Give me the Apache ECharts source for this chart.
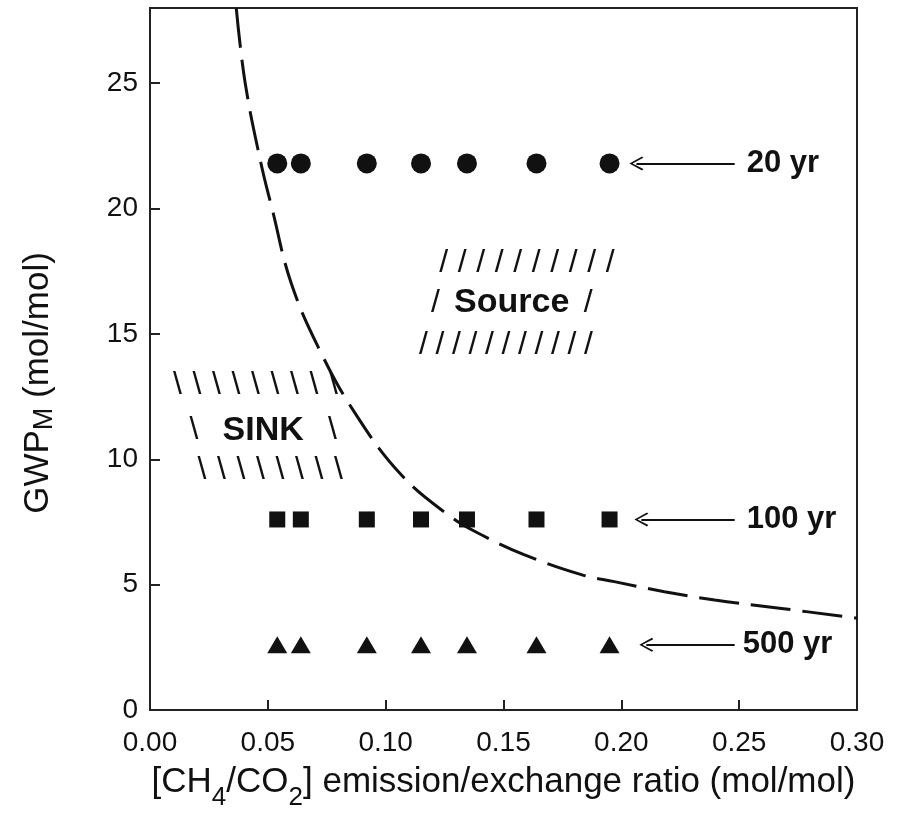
<!DOCTYPE html>
<html lang="en">
<head>
  <meta charset="UTF-8">
  <title>GWP vs CH4/CO2 ratio</title>
  <style>
    * { margin: 0; padding: 0; }
    body { background: #ffffff; }
    #chart { width: 900px; height: 820px; }
  </style>
</head>
<body>
  <div id="chart"></div>

  <script src="https://cdn.jsdelivr.net/npm/echarts@6/dist/echarts.min.js"></script>
  <script type="text/javascript">
  // emission ratios of the plotted points
  var ratioX = [0.054, 0.064, 0.092, 0.115, 0.1345, 0.164, 0.195];
  var gwp20 = [21.8, 21.8, 21.8, 21.8, 21.8, 21.8, 21.8];
  var gwp100 = [7.6, 7.6, 7.6, 7.6, 7.6, 7.6, 7.6];
  var gwp500 = [2.6, 2.6, 2.6, 2.6, 2.6, 2.6, 2.6];

  // dashed source/sink boundary
  var curveX = [0.0366, 0.0404, 0.0471, 0.0518, 0.0600, 0.0723, 0.0866, 0.1064, 0.1277, 0.1404, 0.1587, 0.183, 0.197, 0.2183, 0.2396, 0.268, 0.300];
  var curveY = [28, 25, 21.8, 20, 17.0, 14.3, 11.9, 9.4, 7.7, 7.0, 6.2, 5.4, 5.12, 4.72, 4.39, 4.05, 3.66];

  // horizon labels and their arrows
  var horizonNames = ['20 yr', '100 yr', '500 yr'];
  var horizonY = [21.8, 7.6, 2.6];
  var horizonLabelX = [0.2532, 0.2532, 0.2515];
  var arrowTail = [0.2481, 0.2481, 0.2481];
  var arrowTip = [0.2064, 0.2085, 0.2106];

  // hatched region labels
  var hatchRows = [
    '{h|/}'.repeat(10),
    '{h|/}{b| Source }{h|/}',
    '{g|/}'.repeat(11),
    '{k|\\}'.repeat(9),
    '{k|\\}{b|  SINK  }{k|\\}',
    '{k|\\}'.repeat(8)
  ];
  var hatchX = [0.160, 0.1535, 0.151, 0.0447, 0.048, 0.051];
  var hatchY = [17.82, 16.23, 14.55, 12.96, 11.16, 9.57];

  var xTicks = { min: 0, max: 0.3, interval: 0.05 };
  var yTicks = { min: 0, max: 28, interval: 5 };

  var font = '"Liberation Sans", Arial, Helvetica, sans-serif';
  var ink = '#111111';

  function pairs (xs, ys) {
    return xs.map(function (x, i) { return [x, ys[i]]; });
  }

  function main () {
    var chart = echarts.init(document.getElementById('chart'));
    var chevron = 'path://M0,0 L10,14 L8,15.5 L0,3.5 L-8,15.5 L-10,14 Z';
    var solid = { color: ink, opacity: 1 };

    var option = {
      animation: false,
      textStyle: { fontFamily: font, color: ink },
      grid: {
        left: 150, right: 43, top: 8, bottom: 110,
        show: true, borderColor: '#222', borderWidth: 2,
        outerBoundsMode: 'none'
      },
      xAxis: {
        type: 'value',
        min: xTicks.min, max: xTicks.max, interval: xTicks.interval,
        name: '{m|[CH}{s|4}{m|/CO}{s|2}{m|] emission/exchange ratio (mol/mol)}',
        nameLocation: 'middle',
        nameGap: 55,
        nameTextStyle: {
          rich: {
            m: { fontSize: 35, lineHeight: 35, verticalAlign: 'top', color: ink, fontFamily: font },
            s: { fontSize: 26, lineHeight: 46, padding: [20, 0, 0, 0], verticalAlign: 'bottom', color: ink, fontFamily: font }
          }
        },
        axisLine: { lineStyle: { color: '#222', width: 2 } },
        axisTick: { inside: true, length: 10, lineStyle: { color: '#222', width: 2 } },
        axisLabel: {
          fontSize: 28, color: ink, margin: 19,
          formatter: function (v) { return v.toFixed(2); }
        },
        splitLine: { show: false }
      },
      yAxis: {
        type: 'value',
        min: yTicks.min, max: yTicks.max, interval: yTicks.interval,
        name: '{m|GWP}{s|M}{m| (mol/mol)}',
        nameLocation: 'middle',
        nameGap: 92,
        nameTextStyle: {
          padding: [0, 48, 0, 0],
          rich: {
            m: { fontSize: 35, lineHeight: 35, verticalAlign: 'top', color: ink, fontFamily: font },
            s: { fontSize: 27, lineHeight: 37, padding: [10, 0, 0, 0], verticalAlign: 'bottom', color: ink, fontFamily: font }
          }
        },
        axisLine: { lineStyle: { color: '#222', width: 2 } },
        axisTick: { inside: true, length: 10, lineStyle: { color: '#222', width: 2 } },
        axisLabel: {
          fontSize: 28, color: ink, margin: 12, showMaxLabel: false,
          formatter: function (v) { return v % 5 === 0 ? String(v) : ''; }
        },
        splitLine: { show: false }
      },
      series: [
        {
          name: 'boundary',
          type: 'line',
          data: pairs(curveX, curveY),
          smooth: 0.4,
          showSymbol: false,
          silent: true,
          z: 1,
          lineStyle: { color: ink, width: 3, type: [40, 12] }
        },
        {
          name: '20 yr',
          type: 'scatter',
          data: pairs(ratioX, gwp20),
          symbol: 'circle',
          symbolSize: 20,
          itemStyle: solid
        },
        {
          name: '100 yr',
          type: 'scatter',
          data: pairs(ratioX, gwp100),
          symbol: 'rect',
          symbolSize: 16,
          itemStyle: solid
        },
        {
          name: '500 yr',
          type: 'scatter',
          data: pairs(ratioX, gwp500),
          symbol: 'triangle',
          symbolSize: [20, 17],
          itemStyle: solid
        },
        {
          name: 'horizons',
          type: 'scatter',
          silent: true,
          symbolSize: 0,
          itemStyle: solid,
          data: horizonNames.map(function (n, i) {
            return { name: n, value: [horizonLabelX[i], horizonY[i]] };
          }),
          label: {
            show: true, position: 'right', distance: 0, opacity: 1,
            formatter: function (p) { return p.name; },
            fontSize: 31, fontWeight: 'bold', color: ink, fontFamily: font
          },
          markLine: {
            silent: true,
            animation: false,
            symbol: ['none', chevron],
            symbolSize: 14,
            label: { show: false },
            lineStyle: { color: ink, width: 2, type: 'solid', opacity: 1 },
            data: horizonY.map(function (y, i) {
              return [{ coord: [arrowTail[i], y] }, { coord: [arrowTip[i], y] }];
            })
          }
        },
        {
          name: 'regions',
          type: 'scatter',
          silent: true,
          symbolSize: 0,
          itemStyle: solid,
          data: hatchRows.map(function (t, i) {
            return { name: t, value: [hatchX[i], hatchY[i]] };
          }),
          label: {
            show: true, position: 'inside', opacity: 1,
            formatter: function (p) { return p.name; },
            rich: {
              h: { width: 18.5, align: 'center', fontSize: 32, color: ink, fontFamily: font },
              g: { width: 16.5, align: 'center', fontSize: 32, color: ink, fontFamily: font },
              k: { width: 19.5, align: 'center', fontSize: 32, color: ink, fontFamily: font },
              b: { fontSize: 34, fontWeight: 'bold', color: ink, fontFamily: font }
            }
          }
        }
      ]
    };
    chart.setOption(option);
  }

  window.addEventListener('load', main);
  </script>
</body>
</html>
